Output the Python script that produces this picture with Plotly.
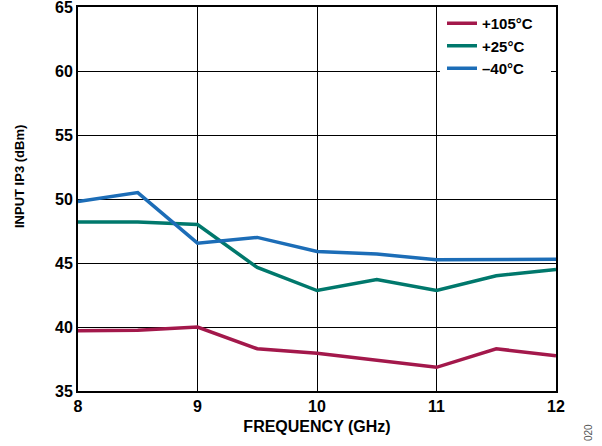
import plotly.graph_objects as go

freq = [8, 8.5, 9, 9.5, 10, 10.5, 11, 11.5, 12]
ip3_105 = [39.7, 39.75, 40.0, 38.3, 37.95, 37.4, 36.85, 38.3, 37.75]
ip3_25 = [48.2, 48.2, 48.0, 44.65, 42.85, 43.7, 42.85, 44.0, 44.5]
ip3_m40 = [49.8, 50.5, 46.55, 47.0, 45.9, 45.7, 45.25, 45.3, 45.3]

names = ["+105°C", "+25°C", "–40°C"]
colors = ["#A3184B", "#00786C", "#1C6DB7"]

font = "Liberation Sans, Arial, sans-serif"
W, H = 602, 446
L, R, T, B = 78, 46, 7, 55
pw, ph = W - L - R, H - T - B


def px_x(x):
    return (x - L) / pw


def px_y(y):
    return 1 - (y - T) / ph


fig = go.Figure()
for name, ys, c in zip(names, [ip3_105, ip3_25, ip3_m40], colors):
    fig.add_trace(go.Scatter(x=freq, y=ys, mode="lines", name=name,
                             line=dict(color=c, width=3.5)))

fig.update_layout(
    width=W, height=H,
    margin=dict(l=L, r=R, t=T, b=B, autoexpand=False),
    paper_bgcolor="white", plot_bgcolor="white",
    font=dict(family=font, size=15, color="black"),
    showlegend=True,
    legend=dict(x=px_x(442), y=px_y(7), xanchor="left", yanchor="top",
                bgcolor="rgba(0,0,0,0)", borderwidth=0,
                font=dict(family=font, size=15, color="black", weight="bold"),
                tracegroupgap=0, itemwidth=30),
    shapes=[dict(type="rect", xref="paper", yref="paper",
                 x0=px_x(440), x1=px_x(551), y0=px_y(74), y1=px_y(9),
                 fillcolor="white", line=dict(width=0), layer="above")],
    annotations=[
        dict(text="INPUT IP3 (dBm)", x=px_x(20), y=px_y(177),
             xref="paper", yref="paper", xanchor="center", yanchor="middle",
             showarrow=False, textangle=-90,
             font=dict(size=13, color="black", family=font, weight="bold")),
        dict(text="020", x=px_x(588), y=px_y(433),
             xref="paper", yref="paper", xanchor="center", yanchor="middle",
             showarrow=False, textangle=-90,
             font=dict(size=10, color="#555555", family=font)),
    ],
)

fig.update_xaxes(range=[8, 12], tickvals=[8, 9, 10, 11, 12],
                 showgrid=True, gridcolor="black", gridwidth=1.2,
                 showline=True, linecolor="black", linewidth=2, mirror=True,
                 ticks="", zeroline=False, ticklabeloverflow="allow",
                 tickfont=dict(family=font, size=16, weight="bold"),
                 title=dict(text="FREQUENCY (GHz)", standoff=7,
                            font=dict(family=font, size=16, weight="bold")))
fig.update_yaxes(range=[35, 65], tickvals=[35, 40, 45, 50, 55, 60, 65],
                 showgrid=True, gridcolor="black", gridwidth=1.2,
                 showline=True, linecolor="black", linewidth=2, mirror=True,
                 ticks="", zeroline=False, ticklabeloverflow="allow",
                 tickfont=dict(family=font, size=16, weight="bold"))

fig.write_html("out.html", config={"displayModeBar": False},
               post_script="document.body.style.margin='0';document.body.style.overflow='hidden';")
